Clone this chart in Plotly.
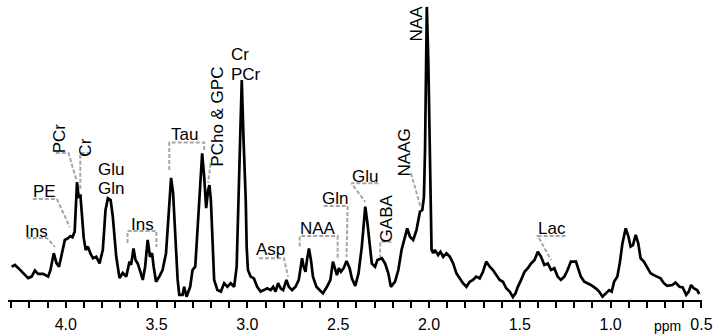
import plotly.graph_objects as go

# Chemical shift (ppm) and signal intensity (arbitrary units)
ppm = [4.298, 4.280, 4.262, 4.234, 4.207, 4.188, 4.170, 4.152, 4.124, 4.097,
       4.084, 4.066, 4.051, 4.037, 4.024, 4.005, 3.987, 3.974, 3.963, 3.951,
       3.938, 3.929, 3.919, 3.911, 3.901, 3.890, 3.878, 3.865, 3.850, 3.832,
       3.814, 3.796, 3.781, 3.768, 3.753, 3.741, 3.722, 3.704, 3.686, 3.667,
       3.649, 3.640, 3.627, 3.616, 3.604, 3.589, 3.576, 3.563, 3.549, 3.536,
       3.525, 3.516, 3.503, 3.485, 3.467, 3.448, 3.434, 3.420, 3.409, 3.397,
       3.384, 3.375, 3.357, 3.348, 3.335, 3.315, 3.302, 3.287, 3.275, 3.260,
       3.249, 3.238, 3.227, 3.216, 3.209, 3.201, 3.192, 3.183, 3.165, 3.146,
       3.128, 3.110, 3.092, 3.073, 3.059, 3.052, 3.043, 3.031, 3.021, 3.009,
       3.004, 2.997, 2.982, 2.964, 2.946, 2.927, 2.909, 2.891, 2.872, 2.858,
       2.845, 2.831, 2.817, 2.803, 2.785, 2.772, 2.754, 2.735, 2.717, 2.699,
       2.690, 2.680, 2.672, 2.661, 2.650, 2.639, 2.620, 2.602, 2.584, 2.562,
       2.543, 2.529, 2.518, 2.507, 2.496, 2.485, 2.470, 2.454, 2.437, 2.425,
       2.406, 2.397, 2.388, 2.370, 2.351, 2.339, 2.324, 2.315, 2.297, 2.284,
       2.260, 2.242, 2.224, 2.210, 2.187, 2.169, 2.151, 2.132, 2.120, 2.105,
       2.087, 2.069, 2.050, 2.037, 2.028, 2.022, 2.018, 2.012, 2.004, 1.997,
       1.986, 1.977, 1.968, 1.950, 1.937, 1.922, 1.904, 1.885, 1.867, 1.849,
       1.831, 1.813, 1.794, 1.776, 1.758, 1.740, 1.721, 1.703, 1.685, 1.666,
       1.648, 1.630, 1.611, 1.593, 1.575, 1.556, 1.538, 1.524, 1.511, 1.493,
       1.474, 1.456, 1.438, 1.419, 1.401, 1.383, 1.365, 1.346, 1.328, 1.310,
       1.292, 1.274, 1.255, 1.237, 1.219, 1.191, 1.177, 1.164, 1.145, 1.127,
       1.109, 1.082, 1.063, 1.045, 1.027, 1.008, 0.994, 0.981, 0.963, 0.950,
       0.935, 0.917, 0.902, 0.890, 0.877, 0.862, 0.848, 0.835, 0.817, 0.798,
       0.780, 0.762, 0.743, 0.725, 0.707, 0.689, 0.661, 0.643, 0.621, 0.603,
       0.584, 0.570, 0.557, 0.543, 0.524, 0.512]
intensity = [11.1, 11.7, 10.7, 9.0, 7.3, 7.8, 9.8, 8.7, 8.7, 7.8,
             10.0, 15.6, 12.3, 11.1, 14.4, 20.0, 20.6, 21.3, 20.9, 22.8,
             39.3, 34.4, 34.7, 29.0, 20.6, 16.7, 17.8, 15.6, 13.9, 14.4,
             12.2, 16.7, 30.0, 33.9, 33.3, 27.8, 14.4, 7.3, 9.0, 7.8,
             12.8, 11.7, 17.2, 13.3, 12.2, 9.4, 6.7, 11.1, 20.0, 14.4,
             15.6, 11.1, 6.1, 7.8, 10.0, 15.6, 28.9, 40.7, 35.6, 23.3,
             6.7, 1.7, 1.7, 4.4, 1.1, 4.4, 10.0, 11.1, 23.3, 38.9,
             48.9, 41.1, 30.6, 36.7, 38.3, 33.3, 17.8, 6.7, 3.3, 2.8,
             5.6, 4.4, 5.6, 4.4, 11.1, 29.0, 50.0, 73.3, 53.3, 33.3,
             17.8, 10.0, 7.8, 7.2, 4.4, 2.8, 3.3, 3.9, 3.3, 4.4,
             2.8, 5.6, 3.9, 3.3, 6.7, 4.4, 3.3, 4.4, 6.7, 13.9,
             11.1, 9.4, 13.3, 17.2, 13.3, 7.8, 4.4, 3.3, 2.2, 4.4,
             6.7, 12.8, 10.6, 8.3, 10.6, 9.4, 10.6, 13.0, 10.6, 7.2,
             4.7, 6.7, 8.9, 17.8, 31.1, 25.6, 16.7, 12.2, 11.1, 13.3,
             13.9, 12.2, 8.9, 4.4, 6.1, 10.0, 16.7, 21.7, 23.9, 21.1,
             20.0, 23.3, 29.4, 30.0, 34.4, 50.0, 80.0, 97.7, 80.0, 50.0,
             16.7, 15.6, 16.7, 15.0, 16.1, 14.4, 15.6, 14.4, 12.2, 8.9,
             7.2, 5.6, 4.4, 6.1, 6.7, 7.8, 7.2, 9.4, 12.8, 11.1,
             10.0, 8.3, 6.7, 6.1, 3.9, 2.8, 1.0, 2.2, 4.4, 6.7,
             9.4, 10.6, 12.2, 13.3, 16.1, 14.4, 11.7, 12.2, 10.0, 10.6,
             7.8, 6.7, 7.8, 10.0, 12.8, 12.8, 10.0, 7.8, 6.1, 5.6,
             5.0, 3.9, 2.8, 1.1, 2.2, 3.3, 2.8, 6.1, 7.8, 12.2,
             18.9, 23.9, 21.1, 17.8, 18.3, 21.7, 18.9, 13.9, 12.8, 10.6,
             8.9, 8.3, 7.8, 7.2, 5.6, 4.7, 5.0, 5.8, 4.4, 4.2,
             1.7, 2.8, 5.0, 3.9, 3.3, 2.0]

tick_vals = [4.0, 3.5, 3.0, 2.5, 2.0, 1.5, 1.0, 0.5]
tick_text = ["4.0", "3.5", "3.0", "2.5", "2.0", "1.5", "1.0", "0.5"]

# metabolite labels: text, ppm, intensity, angle
label_text = ["Ins", "PE", "PCr", "Cr", "Glu", "Gln", "Ins", "Tau", "PCho & GPC",
              "Cr", "PCr", "Asp", "NAA", "Gln", "Glu", "GABA", "NAAG", "NAA", "Lac"]
label_ppm = [4.159, 4.115, 4.033, 3.890, 3.753, 3.753, 3.578, 3.348, 3.169,
             3.041, 3.008, 2.871, 2.613, 2.520, 2.350, 2.235, 2.136, 2.070, 1.325]
label_int = [22.8, 36.3, 53.8, 50.7, 43.5, 37.3, 25.3, 55.2, 61.0,
             82.0, 75.3, 17.0, 23.7, 33.7, 41.3, 27.3, 49.3, 92.3, 24.0]
label_angle = [0, 0, -90, -90, 0, 0, 0, 0, -90,
               0, 0, 0, 0, 0, 0, -90, -90, -90, 0]

# dashed leader lines (ppm path, intensity path)
leaders = [
    ([4.214, 4.104, 4.060], [20.7, 20.7, 17.7]),
    ([4.181, 4.049, 3.978], [33.7, 33.7, 24.3]),
    ([4.055, 3.985, 3.940], [49.0, 49.0, 39.7]),
    ([3.863, 3.920, 3.920], [49.0, 49.0, 36.7]),
    ([3.660, 3.660, 3.501, 3.501], [19.0, 23.0, 23.0, 17.7]),
    ([3.430, 3.430, 3.238, 3.238], [43.3, 52.5, 52.5, 50.0]),
    ([3.134, 3.203, 3.216], [45.3, 45.3, 39.0]),
    ([2.936, 2.799, 2.776], [13.9, 13.9, 7.8]),
    ([2.712, 2.712, 2.503, 2.503], [17.8, 21.3, 21.3, 13.3]),
    ([2.580, 2.448, 2.454], [31.3, 31.3, 14.3]),
    ([2.279, 2.427, 2.351], [38.9, 38.9, 32.7]),
    ([2.207, 2.269, 2.269], [19.4, 19.4, 14.3]),
    ([2.169, 2.098, 2.045], [42.0, 42.0, 30.7]),
    ([1.248, 1.401, 1.328], [21.3, 21.3, 13.3]),
]

fig = go.Figure()
for lx, ly in leaders:
    fig.add_trace(go.Scatter(x=lx, y=ly, mode="lines",
                             line=dict(color="#a6a6a6", width=2, dash="4px,2px"),
                             hoverinfo="skip", showlegend=False))
fig.add_trace(go.Scatter(x=ppm, y=intensity, mode="lines",
                         line=dict(color="black", width=2.7),
                         showlegend=False))

for t, px, py, ang in zip(label_text, label_ppm, label_int, label_angle):
    fig.add_annotation(x=px, y=py, xref="x", yref="y", text=t, showarrow=False,
                       textangle=ang, xanchor="center", yanchor="middle",
                       font=dict(family="Liberation Sans, Arial", size=17, color="black"))

fig.add_annotation(x=0.951, y=-0.085, xref="paper", yref="paper", text="ppm",
                   showarrow=False, xanchor="center", yanchor="middle",
                   font=dict(family="Liberation Sans, Arial", size=14, color="black"))

fig.update_layout(
    width=713, height=334,
    margin=dict(l=8, r=8, t=0, b=34),
    paper_bgcolor="white", plot_bgcolor="white",
    xaxis=dict(range=[4.318, 0.497], showgrid=False, zeroline=False,
               showline=True, linecolor="black", linewidth=2,
               tickmode="array", tickvals=tick_vals, ticktext=tick_text,
               ticks="outside", ticklen=6, tickwidth=2, tickcolor="black",
               ticklabelstandoff=3, ticklabeloverflow="allow",
               minor=dict(dtick=0.1, ticks="outside", ticklen=6, tickwidth=2,
                          tickcolor="black", showgrid=False),
               tickfont=dict(family="Liberation Sans, Arial", size=16, color="black")),
    yaxis=dict(range=[0, 100], visible=False, showgrid=False, zeroline=False),
)

fig.write_html("out.html",
               config={"displayModeBar": False},
               post_script="document.body.style.margin='0';document.body.style.overflow='hidden';")
